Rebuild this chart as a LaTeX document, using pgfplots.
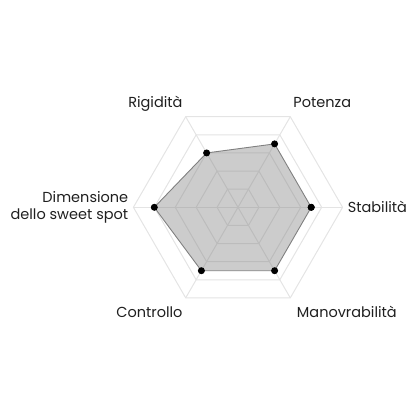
\documentclass[border=0pt]{standalone}
\usepackage{pgfplots}
\pgfplotsset{compat=1.18}
\usepgfplotslibrary{polar}
\usetikzlibrary{calc}
\usepackage{fontspec}
\setmainfont{Poppins}

\definecolor{gridgray}{HTML}{E4E4E4}
\definecolor{linegray}{HTML}{808080}
\definecolor{txt}{HTML}{1F1F1F}

\begin{document}
\begin{tikzpicture}[lbl/.style={font=\fontsize{14.5}{17.5}\selectfont, text=txt, inner sep=0pt}]
\begin{polaraxis}[
    width=209.2pt, height=209.2pt,
    scale only axis,
    ymin=0, ymax=5,
    hide axis,
    clip=false,
    every axis plot/.append style={forget plot},
]
% hexagonal grid
\addplot[gridgray, line width=1pt] coordinates {(0,1) (60,1) (120,1) (180,1) (240,1) (300,1) (360,1)};
\addplot[gridgray, line width=1pt] coordinates {(0,2) (60,2) (120,2) (180,2) (240,2) (300,2) (360,2)};
\addplot[gridgray, line width=1pt] coordinates {(0,3) (60,3) (120,3) (180,3) (240,3) (300,3) (360,3)};
\addplot[gridgray, line width=1pt] coordinates {(0,4) (60,4) (120,4) (180,4) (240,4) (300,4) (360,4)};
\addplot[gridgray, line width=1pt] coordinates {(0,5) (60,5) (120,5) (180,5) (240,5) (300,5) (360,5)};
% spokes
\addplot[gridgray, line width=1pt] coordinates {(0,0) (0,5)};
\addplot[gridgray, line width=1pt] coordinates {(0,0) (60,5)};
\addplot[gridgray, line width=1pt] coordinates {(0,0) (120,5)};
\addplot[gridgray, line width=1pt] coordinates {(0,0) (180,5)};
\addplot[gridgray, line width=1pt] coordinates {(0,0) (240,5)};
\addplot[gridgray, line width=1pt] coordinates {(0,0) (300,5)};

% data: Stabilità, Potenza, Rigidità, Dimensione dello sweet spot, Controllo, Manovrabilità
\addplot[draw=linegray, line width=0.9pt, fill=linegray, fill opacity=0.4,
    mark=*, mark size=3pt,
    mark options={draw=black, fill=black, fill opacity=1, draw opacity=1}]
    coordinates {(0,3.5) (60,3.5) (120,3) (180,4) (240,3.5) (300,3.5) (360,3.5)};

\coordinate (c) at (axis cs:0,0);
\node[lbl, anchor=base west] at ([xshift=5pt, yshift=-5.4pt]axis cs:0,5) {Stabilità};
\node[lbl, anchor=base west] at ([xshift=3pt, yshift=9pt]axis cs:60,5) {Potenza};
\node[lbl, anchor=base east] at ([xshift=-3pt, yshift=9pt]axis cs:120,5) {Rigidità};
\node[lbl, anchor=east, align=right] at ([xshift=-5pt]axis cs:180,5) {Dimensione\\dello sweet spot};
\node[lbl, anchor=base east] at ([xshift=-3pt, yshift=-20pt]axis cs:240,5) {Controllo};
\node[lbl, anchor=base west] at ([xshift=6.5pt, yshift=-20pt]axis cs:300,5) {Manovrabilità};
\end{polaraxis}
\path[use as bounding box] ($(c)+(-238pt,-208.7pt)$) rectangle ($(c)+(178pt,207.3pt)$);
\end{tikzpicture}
\end{document}
